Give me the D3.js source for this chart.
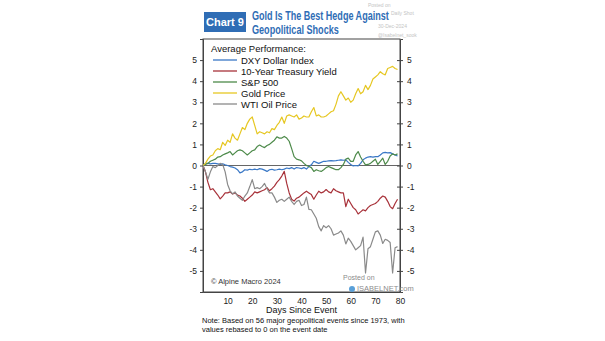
<!DOCTYPE html>
<html>
<head>
<meta charset="utf-8">
<script src="https://cdn.jsdelivr.net/npm/d3@7"></script>
<style>
  body { margin: 0; background: #fff; }
  svg { font-family: "Liberation Sans", Arial, sans-serif; }
</style>
</head>
<body>
<div id="chart"></div>
<script>
// average performance after geopolitical events, rebased to 0 on day 0
const seriesNames = ['DXY Dollar Index', '10-Year Treasury Yield', 'S&P 500', 'Gold Price', 'WTI Oil Price'];
const seriesColors = ['#3a78c6', '#a8323a', '#4d8a4a', '#e6c722', '#8a8a8a'];

const dxy = [0, 0.1, 0.1, 0.08, 0.1, 0.1, 0.08, 0.05, 0.08, 0.03,
    0.0, -0.05, -0.08, -0.12, -0.2, -0.35, -0.3, -0.2, -0.22, -0.18,
    -0.2, -0.17, -0.2, -0.15, -0.17, -0.22, -0.28, -0.2, -0.18, -0.22,
    -0.2, -0.17, -0.2, -0.17, -0.12, -0.15, -0.1, -0.17, -0.1, -0.12,
    -0.15, -0.1, -0.17, -0.05, 0.03, 0.2, 0.15, 0.1, 0.15, 0.2,
    0.2, 0.22, 0.23, 0.22, 0.23, 0.25, 0.27, 0.25, 0.27, 0.15,
    0.05, -0.02, 0.0, -0.02, 0.1, 0.27, 0.35, 0.4, 0.42, 0.4,
    0.42, 0.42, 0.5, 0.6, 0.62, 0.6, 0.61, 0.55, 0.5, 0.45];

const treasury = [0, -0.3, -0.8, -1.15, -1.1, -1.25, -1.4, -1.58, -1.45, -1.3,
    -1.3, -1.25, -1.35, -1.3, -1.4, -1.45, -1.55, -1.7, -1.6, -1.5,
    -1.4, -1.25, -1.3, -1.25, -1.2, -1.15, -1.05, -1.2, -1.1, -0.98,
    -0.8, -0.67, -0.5, -0.28, -0.85, -1.3, -1.6, -1.69, -1.55, -1.5,
    -1.4, -1.3, -1.22, -1.3, -1.38, -1.6, -1.4, -1.22, -1.3, -1.25,
    -1.14, -1.25, -1.3, -1.1, -1.2, -1.25, -1.3, -1.3, -1.95, -1.6,
    -1.8, -2.0, -2.1, -2.3, -2.2, -2.1, -2.15, -2.0, -1.9, -1.85,
    -1.8, -1.7, -1.55, -1.45, -1.5, -1.7, -1.95, -2.05, -1.8, -1.6];

const sp500 = [0, 0.05, 0.1, 0.2, 0.25, 0.3, 0.4, 0.42, 0.5, 0.55,
    0.6, 0.66, 0.5, 0.6, 0.7, 0.74, 0.7, 0.6, 0.5, 0.6,
    0.7, 0.74, 0.9, 0.97, 0.9, 0.85, 0.95, 1.0, 1.1, 1.2,
    1.36, 1.3, 1.3, 1.38, 1.3, 1.15, 0.8, 0.42, 0.3, 0.27,
    0.22, 0.1, 0.0, -0.05, -0.1, -0.28, -0.2, -0.25, -0.28, -0.2,
    -0.1, -0.05, -0.1, -0.15, -0.2, -0.2, -0.1, 0.05, 0.3, 0.35,
    0.2, 0.2, 0.5, 0.66, 0.4, 0.2, 0.03, 0.05, 0.1, 0.2,
    0.3, 0.05, 0.2, 0.35, 0.05, 0.2, 0.45, 0.55, 0.5, 0.55];

const gold = [0, 0.1, 0.3, 0.45, 0.5, 0.7, 0.8, 0.75, 1.1, 0.95,
    1.2, 1.1, 1.5, 1.3, 1.2, 1.5, 1.8, 1.7, 2.0, 2.2,
    2.3, 1.9, 1.5, 1.6, 1.55, 1.5, 1.6, 1.55, 1.75, 1.7,
    1.9, 2.05, 2.3, 2.0, 2.35, 2.4, 2.35, 2.3, 2.4, 2.2,
    2.25, 2.35, 2.3, 2.3, 2.55, 2.75, 2.35, 2.4, 2.3, 2.3,
    2.35, 2.45, 2.55, 2.6, 2.9, 3.3, 3.5, 3.3, 3.1, 3.2,
    3.0, 3.1, 3.4, 3.65, 3.4, 3.5, 3.8, 3.6, 3.8, 4.1,
    4.2, 4.3, 4.45, 4.35, 4.3, 4.6, 4.65, 4.7, 4.6, 4.55];

const wti = [0, -0.3, -0.65, -0.3, -0.05, -0.1, 0.0, 0.1, 0.05, -0.3,
    -0.9, -1.2, -1.35, -1.25, -1.45, -1.55, -1.65, -1.45, -1.3, -1.0,
    -0.67, -1.1, -1.05, -1.1, -1.0, -0.85, -1.1, -1.3, -1.3, -1.5,
    -1.75, -1.65, -1.6, -1.7, -1.6, -1.5, -1.7, -1.85, -1.7, -1.65,
    -1.9, -1.85, -1.5, -2.08, -2.1, -2.3, -2.5, -2.9, -3.1, -2.85,
    -2.95, -2.85, -3.0, -3.3, -3.25, -3.2, -3.1, -3.3, -3.72, -3.45,
    -3.6, -3.8, -4.0, -3.9, -3.8, -3.4, -5.1, -3.95, -3.85, -3.5,
    -3.15, -3.1, -3.3, -3.7, -3.5, -3.55, -3.65, -5.1, -3.9, -3.85];

const xTicks = [10, 20, 30, 40, 50, 60, 70, 80];
const yTicks = [-5, -4, -3, -2, -1, 0, 1, 2, 3, 4, 5];

const allSeries = [dxy, treasury, sp500, gold, wti];

const width = 605;
const height = 341;
const margin = { top: 39, right: 205, bottom: 49, left: 203 };
const innerW = width - margin.left - margin.right;
const innerH = height - margin.top - margin.bottom;

const svg = d3.select('#chart')
    .append('svg')
    .attr('width', width)
    .attr('height', height);

// header: "Chart 9" badge + blue title
svg.append('rect')
    .attr('x', 204).attr('y', 12)
    .attr('width', 42).attr('height', 20)
    .attr('fill', '#2f6db5');
svg.append('text')
    .attr('x', 225).attr('y', 26)
    .attr('text-anchor', 'middle')
    .attr('fill', '#fff')
    .attr('font-weight', 'bold')
    .attr('font-size', 11)
    .text('Chart 9');

// the title face is a condensed bold, so squeeze each line horizontally
function condensedLine(str, tx, ty, targetW) {
    const grp = svg.append('g');
    const t = grp.append('text')
        .attr('fill', '#2f6db5')
        .attr('font-weight', 'bold')
        .attr('font-size', 12)
        .text(str);
    const natural = t.node().getComputedTextLength();
    grp.attr('transform', `translate(${tx},${ty}) scale(${targetW / natural},1)`);
}
condensedLine('Gold Is The Best Hedge Against', 252, 20, 137);
condensedLine('Geopolitical Shocks', 252, 34, 87);

// faint stamp in the top right corner
const stamp = svg.append('g').attr('fill', '#c4c4c4').attr('font-size', 5);
stamp.append('text').attr('x', 368).attr('y', 7).text('Posted on');
stamp.append('text').attr('x', 391).attr('y', 15).text('Daily Shot');
stamp.append('text').attr('x', 378).attr('y', 28).text('30-Dec-2024');
stamp.append('text').attr('x', 378).attr('y', 37).text('@Isabelnet_sook');

const g = svg.append('g')
    .attr('transform', `translate(${margin.left},${margin.top})`);

const x = d3.scaleLinear().domain([0, 80]).range([0, innerW]);
const y = d3.scaleLinear().domain([-6, 6]).range([innerH, 0]);

// frame
g.append('rect')
    .attr('width', innerW).attr('height', innerH)
    .attr('fill', 'none')
    .attr('stroke', '#444')
    .attr('stroke-width', 1);

// zero line
g.append('line')
    .attr('x1', 0).attr('x2', innerW)
    .attr('y1', y(0)).attr('y2', y(0))
    .attr('stroke', '#666')
    .attr('stroke-width', 1);

// axes (plain hyphen for negatives)
const fmt = d => String(d);
const leftAxis = g.append('g')
    .call(d3.axisLeft(y).tickValues(yTicks).tickFormat(fmt).tickSize(3).tickPadding(3));
const rightAxis = g.append('g')
    .attr('transform', `translate(${innerW},0)`)
    .call(d3.axisRight(y).tickValues(yTicks).tickFormat(fmt).tickSize(3).tickPadding(4));
rightAxis.selectAll('.tick line').attr('x1', -3);
const bottomAxis = g.append('g')
    .attr('transform', `translate(0,${innerH})`)
    .call(d3.axisBottom(x).tickValues(xTicks).tickFormat(fmt).tickSize(0).tickPadding(6));

[leftAxis, rightAxis, bottomAxis].forEach(a => {
    a.select('.domain').attr('stroke', '#444');
    a.selectAll('.tick line').attr('stroke', '#444');
    a.selectAll('.tick text')
        .attr('fill', '#222')
        .attr('font-size', 8.5)
        .style('font-family', '"Liberation Sans", Arial, sans-serif');
});

// series lines
const line = d3.line()
    .x((d, i) => x(i))
    .y(d => y(d));

allSeries.forEach((vals, k) => {
    g.append('path')
        .datum(vals)
        .attr('fill', 'none')
        .attr('stroke', seriesColors[k])
        .attr('stroke-width', 1.2)
        .attr('stroke-linejoin', 'round')
        .attr('d', line);
});

// legend
const legend = g.append('g').attr('font-size', 9.5).attr('fill', '#111');
legend.append('text')
    .attr('x', 8).attr('y', 13)
    .text('Average Performance:');
seriesNames.forEach((name, k) => {
    const ly = 21 + k * 11;
    legend.append('line')
        .attr('x1', 10).attr('x2', 34)
        .attr('y1', ly).attr('y2', ly)
        .attr('stroke', seriesColors[k])
        .attr('stroke-width', 1.3);
    legend.append('text')
        .attr('x', 38).attr('y', ly + 3.5)
        .text(name);
});

// source and watermark inside the plot
g.append('text')
    .attr('x', 8).attr('y', innerH - 8)
    .attr('font-size', 7.5)
    .attr('fill', '#333')
    .text('\u00a9 Alpine Macro 2024');

const mark = g.append('g').attr('fill', '#8c8c8c');
mark.append('text')
    .attr('x', 140).attr('y', innerH - 12)
    .attr('font-size', 7)
    .text('Posted on');
mark.append('circle')
    .attr('cx', 149).attr('cy', innerH - 3)
    .attr('r', 3)
    .attr('fill', '#5aa0d8');
mark.append('text')
    .attr('x', 154).attr('y', innerH - 1)
    .attr('font-size', 7.5)
    .text('ISABELNET.com');

// axis title and note
svg.append('text')
    .attr('x', margin.left + innerW / 2).attr('y', 313)
    .attr('text-anchor', 'middle')
    .attr('font-size', 9)
    .attr('fill', '#111')
    .text('Days Since Event');
svg.append('text')
    .attr('x', 202).attr('y', 323)
    .attr('font-size', 7.5)
    .attr('fill', '#111')
    .text('Note: Based on 56 major geopolitical events since 1973, with');
svg.append('text')
    .attr('x', 202).attr('y', 332)
    .attr('font-size', 7.5)
    .attr('fill', '#111')
    .text('values rebased to 0 on the event date');
</script>
</body>
</html>
